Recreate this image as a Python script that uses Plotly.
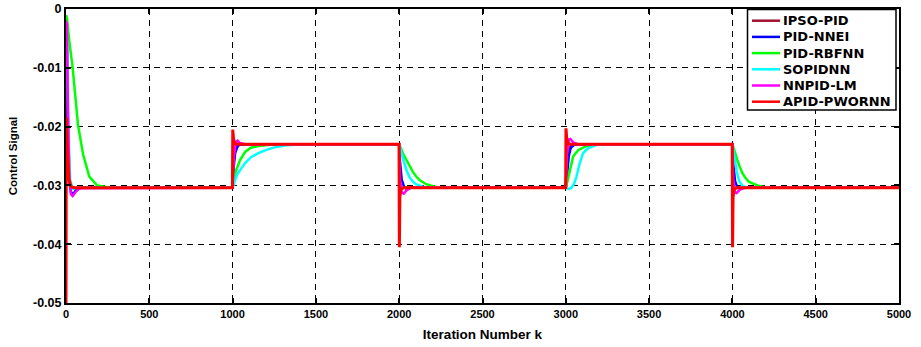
import plotly.graph_objects as go

# ---------------- data ----------------
series_names = ["IPSO-PID", "PID-NNEI", "PID-RBFNN", "SOPIDNN", "NNPID-LM", "APID-PWORNN"]
series_colors = ["#A3122F", "#0000FF", "#00FF00", "#00FFFF", "#FF00FF", "#FF0000"]

ipso_k = [0, 4, 12, 25, 45, 80, 1000, 1005, 1015, 1035, 1060, 2000, 2004, 2012, 2030,
          3000, 3005, 3015, 3035, 3060, 4000, 4004, 4012, 4030, 5000]
ipso_u = [-0.0100, -0.0150, -0.0260, -0.0300, -0.0305, -0.0304, -0.0304, -0.0265, -0.0240, -0.0231, -0.0230,
          -0.0230, -0.0300, -0.0306, -0.0304,
          -0.0304, -0.0265, -0.0240, -0.0231, -0.0230,
          -0.0230, -0.0300, -0.0306, -0.0304, -0.0304]

nnei_k = [0, 5, 12, 20, 30, 45, 60, 90, 1000, 1006, 1015, 1030, 1050,
          2000, 2005, 2015, 2030, 2045, 2070,
          3000, 3008, 3018, 3030, 3050, 3080,
          4000, 4006, 4016, 4030, 4050, 4080, 5000]
nnei_u = [-0.0030, -0.0050, -0.0200, -0.0290, -0.0312, -0.0314, -0.0308, -0.0304,
          -0.0304, -0.0270, -0.0245, -0.0233, -0.0230,
          -0.0230, -0.0260, -0.0290, -0.0303, -0.0306, -0.0304,
          -0.0304, -0.0280, -0.0250, -0.0236, -0.0231, -0.0230,
          -0.0230, -0.0265, -0.0293, -0.0304, -0.0305, -0.0304, -0.0304]

rbfnn_k = [0, 6, 20, 40, 72, 103, 140, 186, 250, 320,
           1000, 1008, 1020, 1045, 1075, 1110, 1155, 1225, 1300,
           2000, 2010, 2025, 2042, 2062, 2082, 2100, 2122, 2162, 2222, 2280,
           3000, 3010, 3024, 3044, 3074, 3124, 3184, 3250,
           4000, 4010, 4030, 4045, 4060, 4080, 4100, 4150, 4210, 5000]
rbfnn_u = [-0.0010, -0.0016, -0.0055, -0.0100, -0.0197, -0.0248, -0.0285, -0.0300, -0.0303, -0.0304,
           -0.0304, -0.0290, -0.0275, -0.0257, -0.0243, -0.0236, -0.0233, -0.0231, -0.0230,
           -0.0230, -0.0238, -0.0247, -0.0256, -0.0267, -0.0277, -0.0284, -0.0291, -0.0298, -0.0303, -0.0304,
           -0.0304, -0.0293, -0.0274, -0.0251, -0.0240, -0.0233, -0.0231, -0.0230,
           -0.0230, -0.0240, -0.0257, -0.0269, -0.0279, -0.0288, -0.0294, -0.0300, -0.0304, -0.0304]

sopidnn_k = [0, 6, 14, 25, 40, 70,
             1000, 1010, 1025, 1045, 1075, 1110, 1155, 1200, 1255, 1315, 1400,
             2000, 2008, 2018, 2030, 2045, 2060, 2080, 2100, 2150, 2200,
             3000, 3020, 3034, 3050, 3064, 3084, 3104, 3134, 3184, 3250,
             4000, 4010, 4025, 4040, 4060, 4090, 5000]
sopidnn_u = [-0.0025, -0.0060, -0.0200, -0.0290, -0.0306, -0.0304,
             -0.0304, -0.0295, -0.0283, -0.0274, -0.0262, -0.0252, -0.0245, -0.0240, -0.0235, -0.0232, -0.0230,
             -0.0230, -0.0240, -0.0250, -0.0262, -0.0275, -0.0285, -0.0293, -0.0298, -0.0303, -0.0304,
             -0.0304, -0.0306, -0.0304, -0.0297, -0.0285, -0.0262, -0.0245, -0.0237, -0.0231, -0.0230,
             -0.0230, -0.0250, -0.0275, -0.0292, -0.0301, -0.0304, -0.0304]

nnpidlm_k = [0, 5, 12, 20, 30, 40, 55, 80,
             1000, 1008, 1020, 1030, 1045, 1070,
             2000, 2005, 2015, 2028, 2045, 2070,
             3000, 3008, 3018, 3028, 3045, 3070,
             4000, 4005, 4015, 4025, 4045, 4070, 5000]
nnpidlm_u = [-0.0020, -0.0025, -0.0180, -0.0290, -0.0315, -0.0318, -0.0312, -0.0305,
             -0.0304, -0.0250, -0.0226, -0.0224, -0.0228, -0.0230,
             -0.0230, -0.0290, -0.0312, -0.0314, -0.0308, -0.0304,
             -0.0304, -0.0245, -0.0222, -0.0221, -0.0227, -0.0230,
             -0.0230, -0.0290, -0.0312, -0.0313, -0.0307, -0.0304, -0.0304]

apid_k = [0, 2, 8, 18, 30, 50,
          999, 1001, 1006, 1015, 1030,
          1999, 2001, 2004, 2010, 2025,
          2999, 3001, 3006, 3015, 3030,
          3999, 4001, 4004, 4010, 4025, 5000]
apid_u = [-0.0500, -0.0185, -0.0240, -0.0290, -0.0302, -0.0304,
          -0.0304, -0.0205, -0.0222, -0.0229, -0.0230,
          -0.0230, -0.0405, -0.0320, -0.0306, -0.0304,
          -0.0304, -0.0203, -0.0222, -0.0229, -0.0230,
          -0.0230, -0.0405, -0.0320, -0.0306, -0.0304, -0.0304]

x_tick_vals = [0, 500, 1000, 1500, 2000, 2500, 3000, 3500, 4000, 4500, 5000]
x_tick_text = ["0", "500", "1000", "1500", "2000", "2500", "3000", "3500", "4000", "4500", "5000"]
y_tick_vals = [0, -0.01, -0.02, -0.03, -0.04, -0.05]
y_tick_text = ["0", "-0.01", "-0.02", "-0.03", "-0.04", "-0.05"]

# ---------------- layout constants ----------------
W, H = 921, 347
ML, MR, MT, MB = 66, 22, 9, 44
PW, PH = W - ML - MR, H - MT - MB


def px_x(px):
    # window pixel -> paper coordinate
    return (px - ML) / PW


def px_y(py):
    return (H - MB - py) / PH


# ---------------- figure ----------------
all_k = [ipso_k, nnei_k, rbfnn_k, sopidnn_k, nnpidlm_k, apid_k]
all_u = [ipso_u, nnei_u, rbfnn_u, sopidnn_u, nnpidlm_u, apid_u]
widths = [2.5, 2.5, 2.5, 2.5, 2.5, 3]

fig = go.Figure()
for name, color, k, u, w in zip(series_names, series_colors, all_k, all_u, widths):
    fig.add_trace(go.Scatter(x=k, y=u, mode="lines", name=name,
                             line=dict(color=color, width=w), showlegend=False))

font_family = "Liberation Sans, Arial, sans-serif"
axis_common = dict(
    showline=True, linecolor="black", linewidth=2, mirror="ticks",
    ticks="inside", ticklen=5, tickcolor="black", tickwidth=1.5,
    showgrid=True, gridcolor="black", gridwidth=1.3, griddash="6px,5px",
    zeroline=False, automargin=False,
)

fig.update_layout(
    width=W, height=H,
    margin=dict(l=ML, r=MR, t=MT, b=MB),
    paper_bgcolor="white", plot_bgcolor="white",
    font=dict(family=font_family, color="black"),
    xaxis=dict(range=[0, 5000], tickvals=x_tick_vals, ticktext=x_tick_text,
               tickfont=dict(family=font_family, size=11, color="black", weight="bold"),
               title=dict(text="Iteration Number k", standoff=10,
                          font=dict(family=font_family, size=13.5, color="black", weight="bold")),
               **axis_common),
    yaxis=dict(range=[-0.05, 0], tickvals=y_tick_vals, ticktext=y_tick_text,
               tickfont=dict(family=font_family, size=12.5, color="black", weight="bold"),
               title=dict(text="Control Signal", standoff=13,
                          font=dict(family=font_family, size=11.5, color="black", weight="bold")),
               **axis_common),
    showlegend=False,
    hovermode=False,
)

# ---------------- legend (drawn as a box with sample lines and labels) ----------------
legend_font = dict(family="DejaVu Sans, sans-serif", size=13, color="black", weight="bold")
fig.add_shape(type="rect", xref="paper", yref="paper",
              x0=px_x(747.5), x1=px_x(896), y0=px_y(110), y1=px_y(9.5),
              line=dict(color="black", width=1.5), fillcolor="white", layer="above")
for i, (name, color) in enumerate(zip(series_names, series_colors)):
    cy = 20.7 + i * 16.2
    fig.add_shape(type="line", xref="paper", yref="paper",
                  x0=px_x(752), x1=px_x(780), y0=px_y(cy), y1=px_y(cy),
                  line=dict(color=color, width=2.5), layer="above")
    fig.add_annotation(xref="paper", yref="paper", x=px_x(781.5), y=px_y(cy),
                       xanchor="left", yanchor="middle", text=name, showarrow=False,
                       font=legend_font, borderpad=0)

# remove the browser's default 8px page margin so the figure fills the window exactly
fig.write_html("out.html", config={"displayModeBar": False},
               post_script="document.body.style.margin='0';")
